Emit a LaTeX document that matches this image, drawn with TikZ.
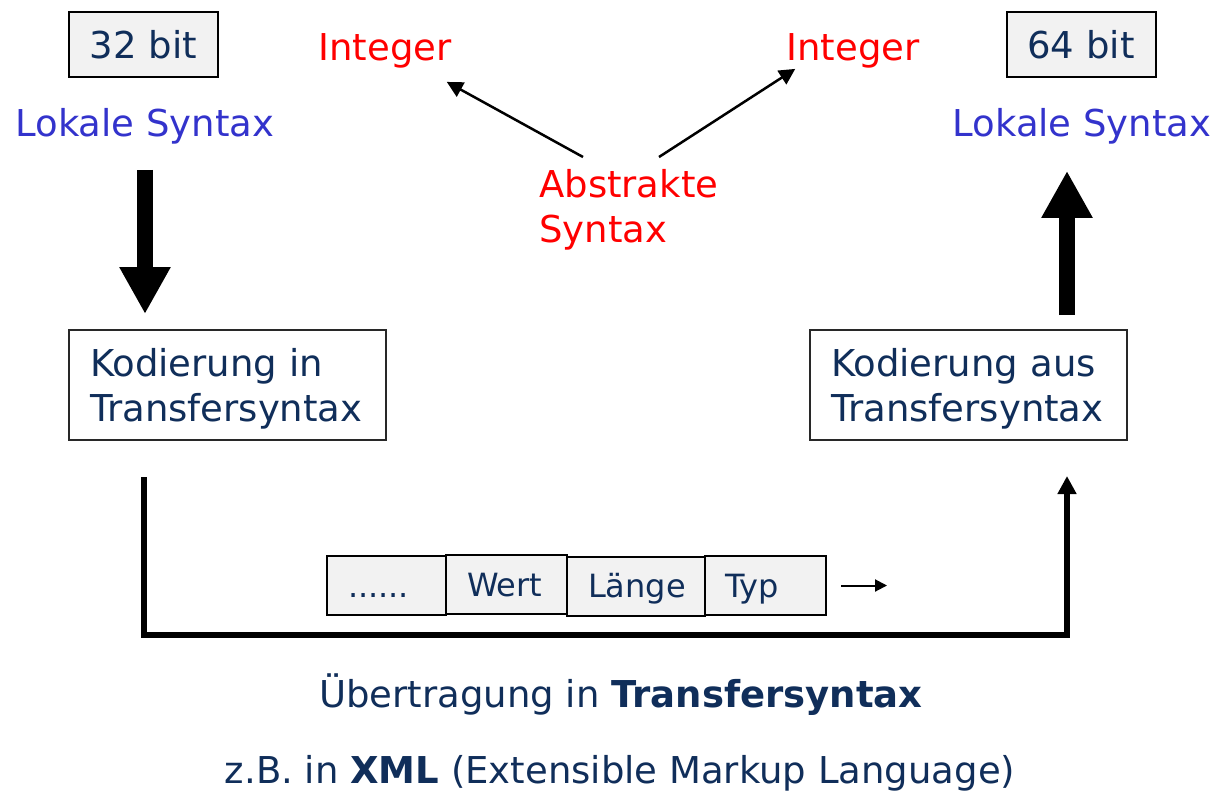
\documentclass[tikz,border=0pt]{standalone}
\usepackage{fontspec}
\setmainfont{DejaVu Sans}
\usetikzlibrary{arrows.meta,calc}
\definecolor{navy}{RGB}{16,46,90}
\definecolor{lblue}{RGB}{51,51,204}
\definecolor{boxfill}{RGB}{242,242,242}
\definecolor{boxline}{RGB}{40,40,40}
\tikzset{
  txt/.style={inner sep=0pt, font=\fontsize{37}{45}\selectfont},
  small/.style={inner sep=0pt, font=\fontsize{32}{38}\selectfont},
  bitbox/.style={txt, draw=black, line width=2pt, fill=boxfill, text=navy,
    minimum width=149pt, minimum height=65pt},
  kodbox/.style={txt, draw=boxline, line width=2pt, fill=white, text=navy,
    minimum width=317pt, minimum height=110pt, text width=275pt, align=left},
  pkt/.style={small, draw=black, line width=2pt, fill=boxfill, text=navy,
    minimum height=59pt, text height=26pt, text depth=3pt, align=left},
  bigarrow/.style={line width=16pt, -{Triangle[length=47pt,width=48pt]}},
  thinarrow/.style={line width=2.5pt, -{Triangle[length=16pt,width=16pt]}},
}
\begin{document}
\begin{tikzpicture}[x=1pt,y=-1pt]
\useasboundingbox (0,0) rectangle (1220,809);
% top boxes
\node[bitbox] (b32) at (143.5,44.5) {32 bit};
\node[bitbox] (b64) at (1081,44.5) {64 bit};
\node[txt, text=lblue, anchor=base] (lokL) at (145,136) {Lokale Syntax};
\node[txt, text=lblue, anchor=base] (lokR) at (1082,136) {Lokale Syntax};
\node[txt, text=red, anchor=base] (intL) at (385,60) {Integer};
\node[txt, text=red, anchor=base] (intR) at (853,60) {Integer};
\node[txt, text=red, anchor=north west, align=left] (abs) at (539,169) {Abstrakte\\Syntax};
% middle boxes
\node[kodbox] (kodL) at (227.5,385) {\rule{0pt}{36pt}Kodierung in\\Transfersyntax};
\node[kodbox] (kodR) at (968.5,385) {\rule{0pt}{36pt}Kodierung aus\\Transfersyntax};
% thick arrows
\draw[bigarrow, shorten <=26pt, shorten >=15pt] (lokL.south) -- (lokL.south |- kodL.north);
\draw[bigarrow, shorten <=14pt, shorten >=27pt] ([xshift=98.5pt]kodR.north) -- ([xshift=98.5pt]kodR.north |- lokR.south);
% thin arrows
\draw[thinarrow] ($(abs.north west)+(44,-12)$) -- ($(intL.south east)+(-5,14)$);
\draw[thinarrow] ($(abs.north west)+(120,-12)$) -- ($(intR.south west)+(9,1)$);
% transfer line
\coordinate (s) at ($(kodL.south west)+(76,36)$);
\coordinate (e) at ($(kodR.south west)+(258,35)$);
\draw[line width=5.5pt, line join=miter, -{Triangle[length=18pt,width=18pt]}]
  (s) |- ($(e)+(0,159)$) -- (e);
% packets
\node[pkt, minimum width=119pt, text width=77pt] (p0) at (386.5,585.5) {......};
\node[pkt, minimum width=121pt, text width=79pt] (p1) at (506.5,584.5) {Wert};
\node[pkt, minimum width=138pt, text width=96pt] (p2) at (636,586) {Länge};
\node[pkt, minimum width=121pt, text width=81pt] (p3) at (765.5,585.5) {Typ};
\coordinate (pa) at ($(p3.east)+(14,0)$);
\draw[line width=2pt, -{Triangle[length=12pt,width=12pt]}] (pa) -- ++(46,0);
% bottom text
\node[txt, text=navy, anchor=base] (t1) at (621,707) {Übertragung in \textbf{Transfersyntax}};
\node[txt, text=navy, anchor=base] (t2) at (620,783) {z.B. in \textbf{XML} (Extensible Markup Language)};
\end{tikzpicture}
\end{document}
